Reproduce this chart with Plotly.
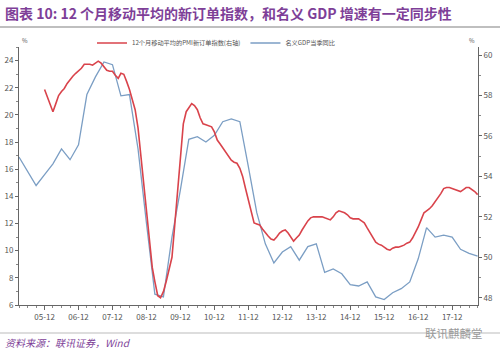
import pandas as pd
import plotly.graph_objects as go

# ---- data ----
gdp_dates = pd.date_range("2005-03-01", "2018-09-01", freq="3MS")
gdp_yoy = [16.9, 15.8, 14.8, 15.6, 16.4, 17.5, 16.7, 17.8, 21.5, 22.8, 23.9, 23.7,
           21.4, 21.5, 17.5, 12.0, 6.8, 6.6, 11.0, 14.5, 18.2, 18.4, 18.0, 18.5,
           19.5, 19.7, 19.5, 16.2, 12.8, 10.5, 9.1, 9.9, 10.3, 9.3, 10.3, 10.5,
           8.4, 8.65, 8.3, 7.5, 7.4, 7.7, 6.6, 6.4, 6.9, 7.2, 7.7, 9.4,
           11.7, 11.0, 11.15, 11.0, 10.1, 9.8, 9.6]

pmi_dates = pd.date_range("2005-12-01", "2018-09-01", freq="MS")
pmi_ma12 = [58.3, 57.9, 57.5, 57.2, 57.6, 58.0, 58.2, 58.35, 58.6, 58.8, 58.95, 59.1,
            59.2, 59.35, 59.55, 59.55, 59.55, 59.5, 59.6, 59.7, 59.6, 59.4, 59.25, 59.2,
            59.2, 59.0, 58.85, 59.1, 59.05, 58.7, 58.3, 57.8, 57.3, 56.4, 55.0, 53.6,
            52.3, 50.9, 49.5, 48.8, 48.1, 48.0, 48.3, 48.8, 49.4, 50.0, 51.6, 53.4,
            55.2, 56.6, 57.2, 57.4, 57.6, 57.5, 57.3, 56.9, 56.6, 56.55, 56.5, 56.45,
            56.2, 55.8, 55.6, 55.4, 55.2, 55.0, 54.8, 54.7, 54.65, 54.4, 54.0, 53.4,
            52.8, 52.2, 51.7, 51.65, 51.6, 51.4, 51.2, 51.05, 50.9, 50.85, 51.0, 51.2,
            51.3, 51.35, 51.2, 51.0, 50.8, 50.95, 51.1, 51.35, 51.6, 51.8, 51.95, 52.0,
            52.0, 52.0, 52.0, 51.95, 51.9, 51.85, 52.0, 52.2, 52.3, 52.25, 52.2, 52.1,
            51.95, 51.9, 51.9, 51.9, 51.8, 51.7, 51.45, 51.2, 50.95, 50.75, 50.65, 50.6,
            50.5, 50.4, 50.35, 50.45, 50.5, 50.5, 50.55, 50.6, 50.7, 50.75, 50.95, 51.2,
            51.5, 51.85, 52.2, 52.3, 52.4, 52.55, 52.75, 52.9, 53.15, 53.4, 53.45, 53.45,
            53.4, 53.35, 53.3, 53.25, 53.35, 53.45, 53.45, 53.35, 53.25, 53.1]

x_tick_vals = [f"{y}-12-01" for y in range(2005, 2018)]
x_tick_text = [f"{str(y)[2:]}-12" for y in range(2005, 2018)]

title_text = "图表 10: 12 个月移动平均的新订单指数，和名义 GDP 增速有一定同步性"
source_text = "资料来源：联讯证券，Wind"
name_pmi = "12个月移动平均的PMI新订单指数(右轴)"
name_gdp = "名义GDP当季同比"

PURPLE = "#7E3F98"
RED = "#D9434B"
BLUE = "#7B9EC4"
FONT = "Noto Sans CJK SC"

L, R, T, B = 19, 22, 47, 52
PW = 500 - L - R
PH = 357 - T - B


def px_x(p):
    return (p - L) / PW


def px_y(p):
    return 1 - (p - T) / PH


fig = go.Figure()
fig.add_trace(go.Scatter(x=pmi_dates, y=pmi_ma12, name=name_pmi, yaxis="y2",
                         mode="lines", line=dict(color=RED, width=1.6)))
fig.add_trace(go.Scatter(x=gdp_dates, y=gdp_yoy, name=name_gdp, yaxis="y",
                         mode="lines", line=dict(color=BLUE, width=1.3)))

axis_font = dict(family=FONT, size=8, color="#555555")
fig.update_layout(
    width=500, height=357,
    margin=dict(l=L, r=R, t=T, b=B, autoexpand=False),
    paper_bgcolor="white", plot_bgcolor="white",
    font=dict(family=FONT),
    showlegend=True,
    legend=dict(orientation="h", x=px_x(216), xanchor="center", y=px_y(43), yanchor="middle",
                font=dict(family=FONT, size=6.2, color="#555555"),
                itemwidth=30, tracegroupgap=0, bgcolor="rgba(0,0,0,0)"),
    xaxis=dict(type="date", range=["2005-03-01", "2018-09-05"], automargin=False,
               tickvals=x_tick_vals, ticktext=x_tick_text, tickfont=axis_font,
               ticks="outside", ticklen=4, tickcolor="#666", showgrid=False,
               showline=True, linecolor="#666", linewidth=1, zeroline=False,
               minor=dict(ticks="outside", ticklen=2, tickcolor="#888", dtick="M3",
                          tick0="2005-03-01", showgrid=False)),
    yaxis=dict(range=[6, 25], tickvals=list(range(6, 25, 2)), tickfont=axis_font,
               automargin=False,
               ticks="outside", ticklen=3, tickcolor="#666", showgrid=False,
               showline=True, linecolor="#666", linewidth=1, zeroline=False,
               minor=dict(ticks="outside", ticklen=2, tickcolor="#888", dtick=1, showgrid=False)),
    yaxis2=dict(range=[47.64, 60.4], tickvals=list(range(48, 61, 2)), tickfont=axis_font,
                overlaying="y", side="right", automargin=False, ticklabeloverflow="allow",
                ticks="outside", ticklen=3, tickcolor="#666", showgrid=False,
                showline=True, linecolor="#666", linewidth=1, zeroline=False,
                minor=dict(ticks="outside", ticklen=2, tickcolor="#888", dtick=1, showgrid=False)),
)

fig.add_annotation(text=f"<b>{title_text}</b>", xref="paper", yref="paper",
                   x=px_x(3), xanchor="left", y=px_y(13), yanchor="middle",
                   showarrow=False, font=dict(family=FONT, size=14, color=PURPLE))
fig.add_annotation(text=f"<i>{source_text}</i>", xref="paper", yref="paper",
                   x=px_x(3), xanchor="left", y=px_y(342), yanchor="middle",
                   showarrow=False, font=dict(family=FONT, size=10, color=PURPLE))
fig.add_annotation(text="联讯麒麟堂", xref="paper", yref="paper",
                   x=px_x(485), xanchor="right", y=px_y(333), yanchor="middle",
                   showarrow=False, font=dict(family=FONT, size=11.5, color="#999999"))
fig.add_annotation(text="%", xref="paper", yref="paper", x=px_x(20), xanchor="left",
                   y=px_y(47), yanchor="bottom", showarrow=False,
                   font=dict(family=FONT, size=6, color="#555"))
fig.add_annotation(text="%", xref="paper", yref="paper", x=px_x(477), xanchor="right",
                   y=px_y(47), yanchor="bottom", showarrow=False,
                   font=dict(family=FONT, size=6, color="#555"))

fig.add_shape(type="line", xref="paper", yref="paper", x0=px_x(0), x1=px_x(500),
              y0=px_y(27), y1=px_y(27), line=dict(color="#AAAAAA", width=1.5))
fig.add_shape(type="line", xref="paper", yref="paper", x0=px_x(0), x1=px_x(500),
              y0=px_y(333), y1=px_y(333), line=dict(color="#BBBBBB", width=1))

fig.write_html("out.html", config={"displayModeBar": False},
               post_script="document.body.style.margin='0';document.body.style.overflow='hidden';")
